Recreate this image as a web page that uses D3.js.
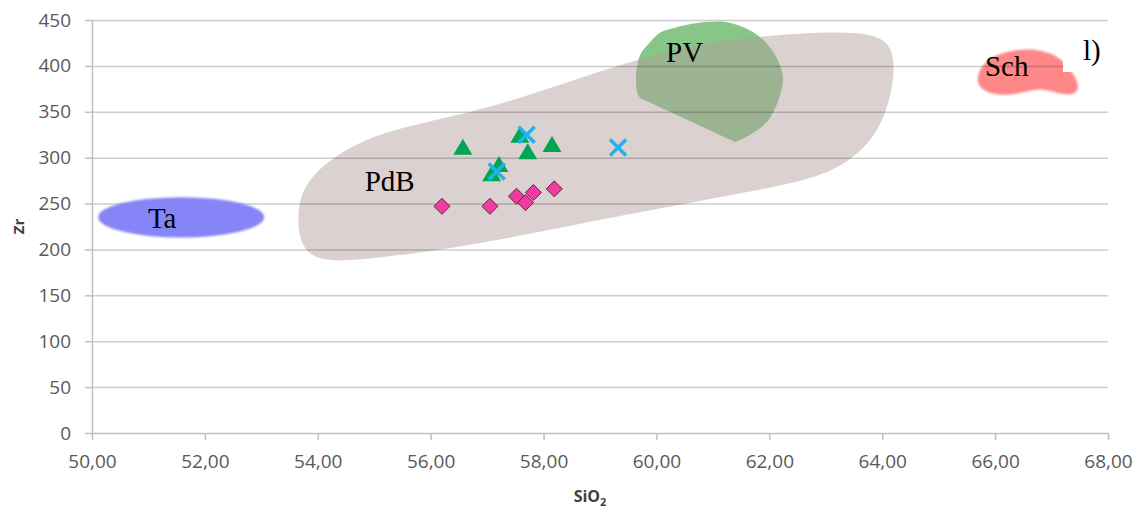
<!DOCTYPE html>
<html>
<head>
<meta charset="utf-8">
<script src="https://cdn.jsdelivr.net/npm/d3@7"></script>
<style>
  body { margin: 0; background: #fff; }
  svg { display: block; }
</style>
</head>
<body>
<svg id="chart" width="1144" height="513"></svg>
<script>
// Axis ticks
const xTicks = [50, 52, 54, 56, 58, 60, 62, 64, 66, 68];
const yTicks = [0, 50, 100, 150, 200, 250, 300, 350, 400, 450];

// Samples: SiO2 (wt%) and Zr (ppm)
const diamondSiO2 = [56.20, 57.05, 57.52, 57.68, 57.82, 58.19];
const diamondZr   = [247, 247, 258, 251, 262, 266];
const triangleSiO2 = [56.57, 57.58, 57.72, 58.15, 57.21, 57.08];
const triangleZr   = [312, 325, 307, 315, 293, 283];
const crossSiO2 = [57.70, 57.17, 59.32];
const crossZr   = [325, 285, 311];

// Reference fields, outlines as [SiO2, Zr]
const pdbOutline = [
  [53.64, 235], [53.70, 262], [53.96, 285], [54.50, 310], [55.28, 331],
  [56.82, 350], [58.29, 379], [59.71, 409], [61.13, 428], [62.54, 436],
  [63.43, 437], [63.92, 433], [64.14, 422], [64.22, 403], [64.18, 376],
  [64.04, 343], [63.75, 314], [63.38, 295], [62.90, 280], [62.31, 271],
  [61.48, 261], [59.30, 236], [57.05, 208], [55.86, 197], [54.70, 188],
  [53.98, 187], [53.68, 206]
];
// PV: curved rim from the lower-left corner round to the lower tip; closed by a straight edge
const pvOutline = [
  [59.71, 365], [59.66, 371], [59.64, 390], [59.71, 412], [59.89, 426],
  [60.06, 436], [60.29, 441], [60.90, 448], [61.30, 447], [61.78, 434],
  [62.07, 415], [62.23, 393], [62.24, 382], [62.15, 361], [61.96, 339],
  [61.66, 325], [61.39, 317]
];
const schOutline = [
  [65.66, 388], [65.84, 408], [66.26, 417], [66.74, 419], [67.12, 411],
  [67.30, 399], [67.45, 385], [67.49, 373], [67.35, 368], [67.10, 370],
  [66.80, 376], [66.57, 372], [66.26, 368], [65.94, 369], [65.72, 376]
];
const taCenter = [51.58, 235];
const taRadii = [1.47, 22];

const fieldLabels = [
  { text: "PdB", at: [54.83, 264] },
  { text: "PV",  at: [60.17, 404] },
  { text: "Sch", at: [65.82, 389] },
  { text: "Ta",  at: [50.99, 223] }
];

const x = d3.scaleLinear().domain([50, 68]).range([92, 1108]);
const y = d3.scaleLinear().domain([0, 450]).range([433, 20]);

const svg = d3.select("#chart");
const fmt = d3.formatLocale({ decimal: ",", thousands: ".", grouping: [3], currency: ["", ""] }).format(".2f");

const defs = svg.append("defs");
defs.append("filter").attr("id", "soft")
  .attr("x", "-10%").attr("y", "-20%").attr("width", "120%").attr("height", "140%")
  .append("feGaussianBlur").attr("stdDeviation", 1.1);

const toPx = d => [x(d[0]), y(d[1])];

// Sch field (under the grid)
svg.append("path")
  .attr("d", d3.line().curve(d3.curveBasisClosed)(schOutline.map(toPx)))
  .attr("fill", "#ff8787")
  .attr("filter", "url(#soft)");

// PV field
svg.append("path")
  .attr("d", d3.line().curve(d3.curveCatmullRom.alpha(0.5))(pvOutline.map(toPx)) + "Z")
  .attr("fill", "#88c688");

// PdB field, translucent over PV
svg.append("path")
  .attr("d", d3.line().curve(d3.curveBasisClosed)(pdbOutline.map(toPx)))
  .attr("fill", "rgb(178,157,157)")
  .attr("fill-opacity", 0.47);

// Horizontal grid
const grid = svg.append("g")
  .attr("transform", `translate(${x(50)},0)`)
  .call(d3.axisLeft(y).tickValues(yTicks.filter(v => v > 0)).tickSize(-(x(68) - x(50))).tickFormat(""));
grid.select(".domain").remove();
grid.selectAll("line").attr("stroke", "rgba(0,0,0,0.2)").attr("stroke-width", 1.5);

// Ta field
svg.append("ellipse")
  .attr("cx", x(taCenter[0])).attr("cy", y(taCenter[1]))
  .attr("rx", x(taCenter[0] + taRadii[0]) - x(taCenter[0]))
  .attr("ry", y(0) - y(taRadii[1]))
  .attr("fill", "#8585f7")
  .attr("filter", "url(#soft)");

// Panel tag
svg.append("rect").attr("x", 1063).attr("y", 23).attr("width", 60).attr("height", 49).attr("fill", "#fff");
svg.append("text").attr("x", 1083).attr("y", 60)
  .attr("font-family", "'Liberation Serif', 'DejaVu Serif', serif").attr("font-size", 29)
  .attr("fill", "#000").text("l)");

// Axes
const axisColor = "#bfbfbf";
const xAxis = svg.append("g").attr("transform", `translate(0,${y(0)})`)
  .call(d3.axisBottom(x).tickValues(xTicks).tickFormat(fmt).tickSize(7).tickSizeOuter(0).tickPadding(15));
const yAxis = svg.append("g").attr("transform", `translate(${x(50)},0)`)
  .call(d3.axisLeft(y).tickValues(yTicks).tickFormat(d3.format("d")).tickSize(7).tickSizeOuter(0).tickPadding(14));
[xAxis, yAxis].forEach(g => {
  g.select(".domain").attr("stroke", axisColor).attr("stroke-width", 1.5);
  g.selectAll(".tick line").attr("stroke", axisColor).attr("stroke-width", 1.5);
  g.selectAll(".tick text")
    .attr("font-family", "'Open Sans', 'Noto Sans', sans-serif")
    .attr("font-size", 19).attr("fill", "#595959");
});

// Axis titles
svg.append("text")
  .attr("transform", `translate(24,${y(225)}) rotate(-90)`)
  .attr("text-anchor", "middle")
  .attr("font-family", "'Open Sans', 'Noto Sans', sans-serif")
  .attr("font-weight", "bold").attr("font-size", 15).attr("fill", "#404040")
  .text("Zr");
const xt = svg.append("text")
  .attr("x", 590).attr("y", 502)
  .attr("text-anchor", "middle")
  .attr("font-family", "'Open Sans', 'Noto Sans', sans-serif")
  .attr("font-weight", "bold").attr("font-size", 16).attr("fill", "#404040");
xt.append("tspan").text("SiO");
xt.append("tspan").attr("font-size", 11).attr("dy", 4).text("2");

// Field names
svg.append("g").selectAll("text").data(fieldLabels).join("text")
  .attr("x", d => x(d.at[0])).attr("y", d => y(d.at[1]))
  .attr("font-family", "'Liberation Serif', 'DejaVu Serif', serif")
  .attr("font-size", 29).attr("fill", "#000")
  .text(d => d.text);

// Triangles
svg.append("g").selectAll("path").data(d3.range(triangleSiO2.length)).join("path")
  .attr("transform", i => `translate(${x(triangleSiO2[i])},${y(triangleZr[i])})`)
  .attr("d", "M0,-8L9.5,8L-9.5,8Z")
  .attr("fill", "#00a651");

// Crosses
svg.append("g").selectAll("path").data(d3.range(crossSiO2.length)).join("path")
  .attr("transform", i => `translate(${x(crossSiO2[i])},${y(crossZr[i])})`)
  .attr("d", "M-8,-8L8,8M-8,8L8,-8")
  .attr("stroke", "#1fb1f0").attr("stroke-width", 3.5).attr("fill", "none");

// Diamonds
svg.append("g").selectAll("path").data(d3.range(diamondSiO2.length)).join("path")
  .attr("transform", i => `translate(${x(diamondSiO2[i])},${y(diamondZr[i])})`)
  .attr("d", "M0,-8L8,0L0,8L-8,0Z")
  .attr("fill", "#f03c9e").attr("stroke", "#5b2a45").attr("stroke-width", 1);
</script>
</body>
</html>
